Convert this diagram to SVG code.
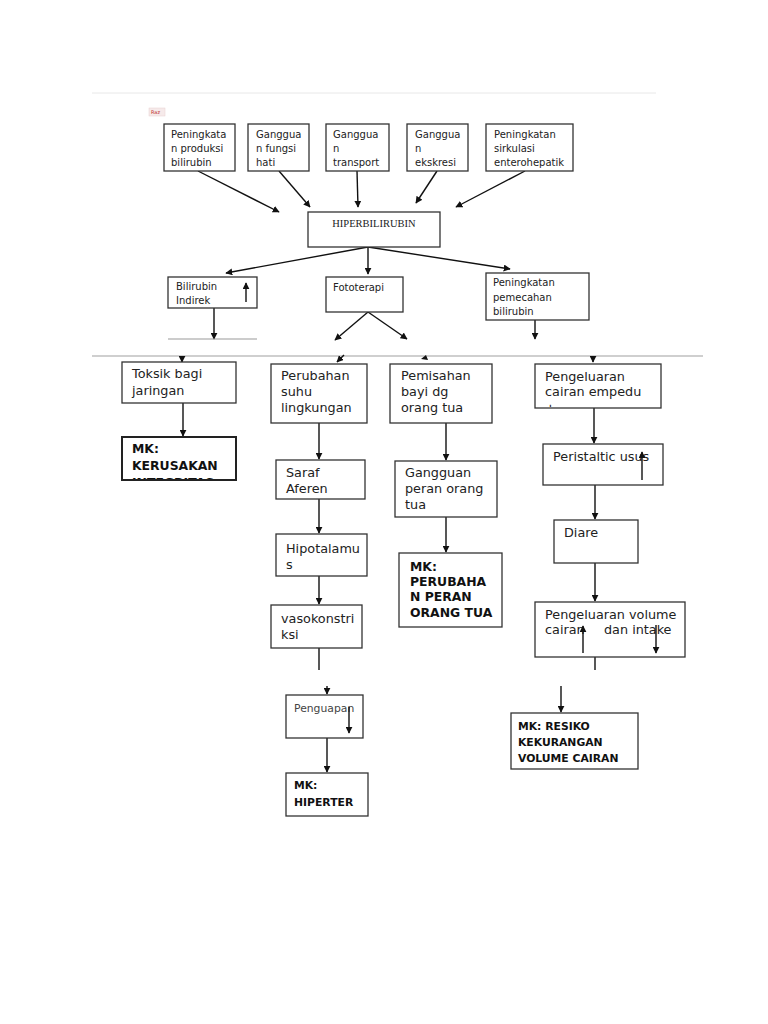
<svg xmlns="http://www.w3.org/2000/svg" width="768" height="1024" viewBox="0 0 768 1024">
<defs>
<style>
.box{fill:#fff;stroke:#333;stroke-width:1.3}
.mk{fill:#fff;stroke:#222;stroke-width:2}
.t10{font-family:"DejaVu Sans",sans-serif;font-size:10px;fill:#222}
.t13{font-family:"DejaVu Sans",sans-serif;font-size:12.8px;fill:#222}
.b12{font-family:"DejaVu Sans",sans-serif;font-size:12.4px;font-weight:bold;fill:#111}
.b11{font-family:"DejaVu Sans",sans-serif;font-size:10.8px;font-weight:bold;fill:#111}
.ln{stroke:#111;stroke-width:1.4;fill:none}
.arr{stroke:#111;stroke-width:1.4;fill:none;marker-end:url(#ah)}
</style>
<marker id="ah" viewBox="0 0 10 10" refX="9" refY="5" markerWidth="7" markerHeight="7" orient="auto" markerUnits="userSpaceOnUse"><path d="M0,0 L10,5 L0,10 z" fill="#111"/></marker>
<clipPath id="c1"><rect x="122" y="437" width="114" height="42"/></clipPath>
<clipPath id="c2"><rect x="286" y="773" width="82" height="42"/></clipPath>
<clipPath id="c3"><rect x="535" y="364" width="126" height="43"/></clipPath>
</defs>
<rect width="768" height="1024" fill="#fff"/>
<line x1="92" y1="93" x2="656" y2="93" stroke="#e8e8e8" stroke-width="1"/>
<line x1="92" y1="356" x2="703" y2="356" stroke="#cfcfcf" stroke-width="2"/>
<rect x="149" y="108" width="16" height="8" fill="#f6eaea" stroke="#e8d0d0" stroke-width="0.5"/>
<text x="151" y="114" font-family="DejaVu Sans,sans-serif" font-size="5" fill="#c03030">Raz</text>

<g id="connectors">
<line class="arr" x1="198" y1="171" x2="279" y2="212"/>
<line class="arr" x1="279" y1="171" x2="310" y2="207"/>
<line class="arr" x1="357" y1="171" x2="358" y2="207"/>
<line class="arr" x1="437" y1="171" x2="416" y2="203"/>
<line class="arr" x1="525" y1="171" x2="456" y2="207"/>
<line class="arr" x1="368" y1="247" x2="226" y2="273"/>
<line class="arr" x1="368" y1="247" x2="368" y2="274"/>
<line class="arr" x1="368" y1="247" x2="510" y2="269"/>
<line class="arr" x1="214" y1="308" x2="214" y2="339"/>
<line x1="168" y1="339" x2="257" y2="339" stroke="#999" stroke-width="1"/>
<line class="arr" x1="368" y1="312" x2="335" y2="340"/>
<line class="arr" x1="368" y1="312" x2="407" y2="339"/>
<line class="arr" x1="535" y1="320" x2="535" y2="339"/>
<line class="arr" x1="182" y1="356" x2="182" y2="362"/>
<line class="arr" x1="344" y1="355" x2="337" y2="362"/>
<path d="M421,359 L426,355 L428,360 z" fill="#111"/>
<line class="arr" x1="593" y1="356" x2="593" y2="362"/>
<line class="arr" x1="183" y1="403" x2="183" y2="436"/>
<line class="arr" x1="319" y1="423" x2="319" y2="459"/>
<line class="arr" x1="446" y1="423" x2="446" y2="460"/>
<line class="arr" x1="319" y1="499" x2="319" y2="533"/>
<line class="arr" x1="319" y1="576" x2="319" y2="604"/>
<line class="ln" x1="319" y1="648" x2="319" y2="670"/>
<line class="arr" x1="446" y1="517" x2="446" y2="552"/>
<line class="arr" x1="594" y1="408" x2="594" y2="443"/>
<line class="arr" x1="595" y1="485" x2="595" y2="519"/>
<line class="arr" x1="595" y1="563" x2="595" y2="601"/>
<line class="ln" x1="595" y1="657" x2="595" y2="670"/>
<line class="arr" x1="561" y1="686" x2="561" y2="712"/>
<line class="arr" x1="327" y1="686" x2="327" y2="694"/>
<line class="arr" x1="327" y1="738" x2="327" y2="772"/>
</g>

<g id="n-produksi"><rect class="box" x="164" y="124" width="71" height="47"/><text class="t10" x="171" y="138">Peningkata</text><text class="t10" x="171" y="152">n produksi</text><text class="t10" x="171" y="166">bilirubin</text></g>
<g id="n-fungsi"><rect class="box" x="248" y="124" width="61" height="47"/><text class="t10" x="256" y="138">Ganggua</text><text class="t10" x="256" y="152">n fungsi</text><text class="t10" x="256" y="166">hati</text></g>
<g id="n-transport"><rect class="box" x="326" y="124" width="63" height="47"/><text class="t10" x="333" y="138">Ganggua</text><text class="t10" x="333" y="152">n</text><text class="t10" x="333" y="166">transport</text></g>
<g id="n-ekskresi"><rect class="box" x="407" y="124" width="61" height="47"/><text class="t10" x="415" y="138">Ganggua</text><text class="t10" x="415" y="152">n</text><text class="t10" x="415" y="166">ekskresi</text></g>
<g id="n-sirkulasi"><rect class="box" x="486" y="124" width="87" height="47"/><text class="t10" x="494" y="138">Peningkatan</text><text class="t10" x="494" y="152">sirkulasi</text><text class="t10" x="494" y="166">enterohepatik</text></g>

<g id="n-hiper"><rect class="box" x="308" y="212" width="132" height="35"/><text x="374" y="227" text-anchor="middle" font-family="Liberation Serif,serif" font-size="10.5" fill="#222">HIPERBILIRUBIN</text></g>

<g id="n-bilirubin"><rect class="box" x="168" y="277" width="89" height="31"/><text class="t10" x="176" y="290">Bilirubin</text><text class="t10" x="176" y="304">Indirek</text><line class="arr" x1="246" y1="302" x2="246" y2="283"/></g>
<g id="n-fototerapi"><rect class="box" x="326" y="277" width="77" height="35"/><text class="t10" x="333" y="291">Fototerapi</text></g>
<g id="n-pemecahan"><rect class="box" x="486" y="273" width="103" height="47"/><text class="t10" x="493" y="286">Peningkatan</text><text class="t10" x="493" y="301">pemecahan</text><text class="t10" x="493" y="315">bilirubin</text></g>

<g id="n-toksik"><rect class="box" x="122" y="362" width="114" height="41"/><text class="t13" x="132" y="378">Toksik bagi</text><text class="t13" x="132" y="395">jaringan</text></g>
<g id="n-mk-kerusakan"><rect class="mk" x="122" y="437" width="114" height="43"/><g clip-path="url(#c1)"><text class="b12" x="132" y="453">MK:</text><text class="b12" x="132" y="470">KERUSAKAN</text><text class="b12" x="132" y="487">INTEGRITAS</text></g></g>

<g id="n-perubahan"><rect class="box" x="271" y="364" width="96" height="59"/><text class="t13" x="281" y="380">Perubahan</text><text class="t13" x="281" y="396">suhu</text><text class="t13" x="281" y="412">lingkungan</text></g>
<g id="n-saraf"><rect class="box" x="276" y="460" width="89" height="39"/><text class="t13" x="286" y="477">Saraf</text><text class="t13" x="286" y="493">Aferen</text></g>
<g id="n-hipotalamus"><rect class="box" x="276" y="534" width="91" height="42"/><text class="t13" x="286" y="553">Hipotalamu</text><text class="t13" x="286" y="569">s</text></g>
<g id="n-vasokonstriksi"><rect class="box" x="271" y="605" width="91" height="43"/><text class="t13" x="281" y="623">vasokonstri</text><text class="t13" x="281" y="639">ksi</text></g>
<g id="n-penguapan"><rect class="box" x="286" y="695" width="77" height="43"/><text x="294" y="712" font-family="DejaVu Sans,sans-serif" font-size="10.8" fill="#444">Penguapan</text><line class="arr" x1="349" y1="707" x2="349" y2="733"/></g>
<g id="n-mk-hiperter"><rect class="box" x="286" y="773" width="82" height="43" stroke-width="1.5"/><g clip-path="url(#c2)"><text class="b11" x="294" y="789">MK:</text><text class="b11" x="294" y="806">HIPERTER</text><text class="b11" x="294" y="823">MIA</text></g></g>

<g id="n-pemisahan"><rect class="box" x="390" y="364" width="102" height="59"/><text class="t13" x="401" y="380">Pemisahan</text><text class="t13" x="401" y="396">bayi dg</text><text class="t13" x="401" y="412">orang tua</text></g>
<g id="n-gangguan-peran"><rect class="box" x="395" y="461" width="102" height="56"/><text class="t13" x="405" y="477">Gangguan</text><text class="t13" x="405" y="493">peran orang</text><text class="t13" x="405" y="509">tua</text></g>
<g id="n-mk-perubahan"><rect class="box" x="399" y="553" width="103" height="74" stroke-width="1.5"/><text class="b12" x="410" y="571">MK:</text><text class="b12" x="410" y="586">PERUBAHA</text><text class="b12" x="410" y="601">N PERAN</text><text class="b12" x="410" y="617">ORANG TUA</text></g>

<g id="n-empedu"><rect class="box" x="535" y="364" width="126" height="44"/><text class="t13" x="545" y="381">Pengeluaran</text><text class="t13" x="545" y="396">cairan empedu</text><g clip-path="url(#c3)"><text class="t13" x="545" y="414">↓</text></g></g>
<g id="n-peristaltic"><rect class="box" x="543" y="444" width="120" height="41"/><text class="t13" x="553" y="461">Peristaltic usus</text><line class="arr" x1="642" y1="480" x2="642" y2="452"/></g>
<g id="n-diare"><rect class="box" x="554" y="520" width="84" height="43"/><text class="t13" x="564" y="537">Diare</text></g>
<g id="n-volume"><rect class="box" x="535" y="602" width="150" height="55"/><text class="t13" x="545" y="619">Pengeluaran volume</text><text class="t13" x="545" y="634">cairan</text><text class="t13" x="604" y="634">dan intake</text><line class="arr" x1="583" y1="653" x2="583" y2="626"/><line class="arr" x1="656" y1="625" x2="656" y2="653"/></g>
<g id="n-mk-resiko"><rect class="box" x="511" y="713" width="127" height="56" stroke-width="1.5"/><text class="b11" x="518" y="730">MK: RESIKO</text><text class="b11" x="518" y="746">KEKURANGAN</text><text class="b11" x="518" y="762">VOLUME CAIRAN</text></g>
</svg>
